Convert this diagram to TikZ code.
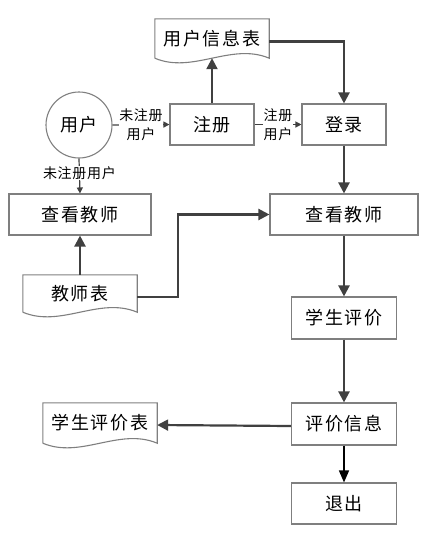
\documentclass[tikz,border=0pt]{standalone}
\usepackage{fontspec}
\newfontfamily\cjk[LetterSpace=10]{Noto Sans CJK SC}
\newfontfamily\cjksm[LetterSpace=5]{Noto Sans CJK SC}
\usetikzlibrary{arrows.meta}
\definecolor{lncol}{HTML}{404040}
\definecolor{bdcol}{HTML}{7F7F7F}
\tikzset{
  box/.style  ={draw=bdcol, line width=1.1pt, rectangle, align=center, fill=white, inner sep=0pt, font=\cjk\fontsize{18}{21}\selectfont},
  doc/.style  ={rectangle, align=center, inner sep=0pt, minimum width=114pt, font=\cjk\fontsize{18}{21}\selectfont},
  usr/.style  ={draw=bdcol, line width=1.1pt, circle, minimum size=66pt, inner sep=0pt, font=\cjk\fontsize{18}{21}\selectfont},
  lbl/.style  ={fill=white, align=center, inner sep=0.5pt, font=\cjksm\fontsize{14}{19}\selectfont},
  arr/.style  ={draw=lncol, line width=2.2pt, -{Triangle[length=11pt,width=11pt]}},
  tarr/.style ={draw=lncol, line width=1.2pt, -{Triangle[length=6pt,width=6pt]}},
  earr/.style ={draw=black, line width=1.4pt, -{Triangle[length=12pt,width=10pt]}},
}
% document symbol with a wavy lower edge
\newcommand\docshape[1]{%
  \draw[draw=bdcol, line width=1.1pt] (#1.south west) -- (#1.north west) -- (#1.north east) -- (#1.south east)
    .. controls +(-38,-16) and +(38,16) .. (#1.south west);}

\begin{document}
\begin{tikzpicture}[x=1pt, y=-1pt]
  \useasboundingbox (0,0) rectangle (435,536);

  % top row
  \node[doc, minimum height=39pt] (yhb) at (212,38.5) {用户信息表};
  \docshape{yhb}
  \node[usr] (yh) at (79,125) {用户};
  \node[box, minimum width=84pt, minimum height=41pt] (zc) at (212,124.5) {注册};
  \node[box, minimum width=84pt, minimum height=41pt] (dl) at (344,124.5) {登录};

  % left column
  \node[box, minimum width=142pt, minimum height=41pt] (ck1) at (80,214.5) {查看教师};
  \node[doc, minimum height=37pt] (jsb) at (80,293.5) {教师表};
  \docshape{jsb}
  \coordinate (turn) at (178,297);

  % right column
  \node[box, minimum width=148pt, minimum height=41pt] (ck2) at (344,214.5) {查看教师};
  \node[box, minimum width=105pt, minimum height=42pt] (xspj) at (344,318) {学生评价};
  \node[box, minimum width=105pt, minimum height=42pt] (pjxx) at (344,424) {评价信息};
  \node[box, minimum width=105pt, minimum height=41pt] (tc) at (344,503.5) {退出};
  \node[doc, minimum height=40pt] (xspjb) at (100,423) {学生评价表};
  \docshape{xspjb}

  % connectors
  \draw[arr] (zc.north) -- (yhb.south);
  \draw[arr] ([yshift=-3pt]yhb.east) -| (dl.north);
  \draw[tarr] (yh.east) -- node[lbl] {未注册\\用户} (zc.west);
  \draw[tarr] (zc.east) -- node[lbl] {注册\\用户} (dl.west);
  \draw[tarr] (yh.south) -- node[lbl, pos=0.42] {未注册用户} (ck1.north);
  \draw[arr] (jsb.north) -- (ck1.south);
  \draw[arr] ([yshift=-3.5pt]jsb.east) -- (turn) |- (ck2.west);
  \draw[arr] (dl.south) -- (ck2.north);
  \draw[arr] (ck2.south) -- (xspj.north);
  \draw[arr] (xspj.south) -- (pjxx.north);
  \draw[arr] ([yshift=-2pt]pjxx.west) -- ([yshift=-2pt]xspjb.east);
  \draw[earr] (pjxx.south) -- (tc.north);
\end{tikzpicture}
\end{document}
